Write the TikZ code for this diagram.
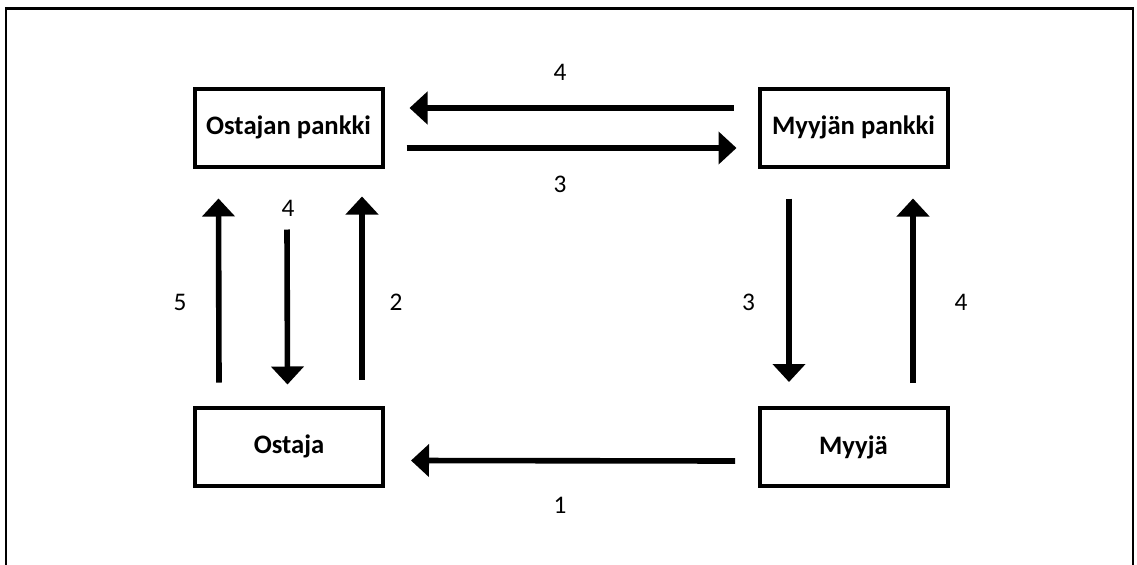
\documentclass[tikz,border=0pt]{standalone}
\usepackage{fontspec}
\setmainfont{Carlito}
\usetikzlibrary{arrows.meta}

\begin{document}
\begin{tikzpicture}[
    x=0.75pt, y=-0.75pt,
    party/.style={rectangle, draw, line width=3pt, minimum width=188*0.75pt, minimum height=78*0.75pt, inner sep=0pt, font=\fontsize{20}{24}\selectfont\bfseries},
    flow/.style={line width=4.2pt, -{Triangle[width=24pt,length=13.5pt]}},
    step label/.style={font=\fontsize{19}{22}\selectfont}
]

% Frame
\useasboundingbox (0,0) rectangle (1137,564);
\draw[line width=2.2pt] (6,570) -- (6,8.5) -- (1133,8.5) -- (1133,570);

% Nodes
\node[party] (ob) at (288.5,127.5) {Ostajan pankki};
\node[party] (mb) at (853.5,127.5) {Myyjän pankki};
\node[party] (os) at (289,446.5) {Ostaja};
\node[party] (my) at (853.5,447) {Myyjä};

% Edges
\draw[flow] ([shift={(-24,-19.5)}]mb.west) -- ([shift={(25,-19.5)}]ob.east);
\draw[flow] ([shift={(22,20.5)}]ob.east) -- ([shift={(-21,20.5)}]mb.west);
\draw[flow] ([shift={(-22.5,14)}]my.west) -- ([shift={(26,14)}]os.east);
\draw[flow] ([shift={(-70,-23)}]os.north) -- ([shift={(-70,30)}]ob.south);
\draw[flow] ([shift={(-1.5,61)}]ob.south) -- ([shift={(-1.5,-21)}]os.north);
\draw[flow] ([shift={(73,-26)}]os.north) -- ([shift={(73.5,28)}]ob.south);
\draw[flow] ([shift={(-64.5,30)}]mb.south) -- ([shift={(-64.5,-24)}]my.north);
\draw[flow] ([shift={(59.5,-23)}]my.north) -- ([shift={(59.5,30)}]mb.south);

% Labels
\node[step label] (l4a) at (560,72) {4};
\node[step label] (l3a) at (560,184) {3};
\node[step label] (l1) at (560,505) {1};
\node[step label] (l5) at (180,302) {5};
\node[step label] (l4b) at (288,208) {4};
\node[step label] (l2) at (396,302) {2};
\node[step label] (l3b) at (748.5,302) {3};
\node[step label] (l4c) at (961,302) {4};

\end{tikzpicture}
\end{document}
